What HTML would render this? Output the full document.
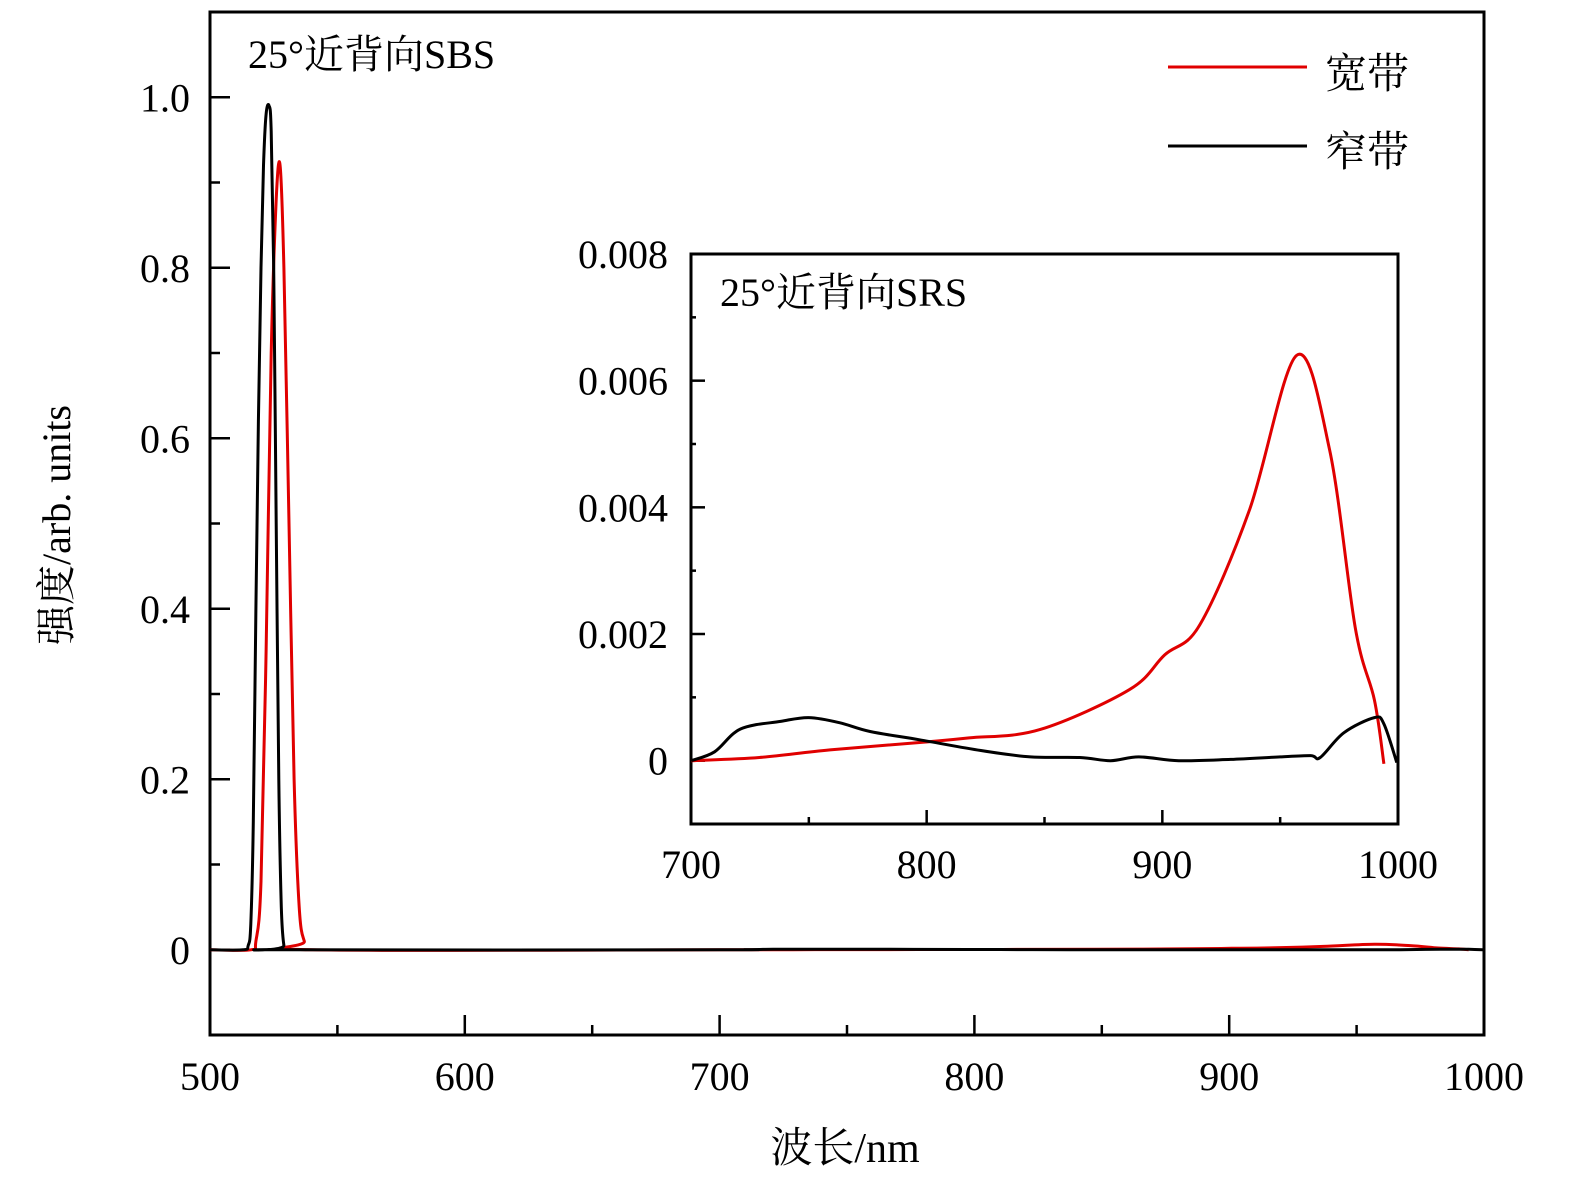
<!DOCTYPE html>
<html><head><meta charset="utf-8"><style>
html,body{margin:0;padding:0;background:#fff;}
svg{display:block;font-family:"Liberation Serif","Noto Serif CJK SC",serif;}
</style></head><body>
<svg id="chart" width="1575" height="1191" viewBox="0 0 1575 1191"></svg>
<script>
// Main chart data (wavelength nm, intensity)
const peakBroadX = [500,516,518,520,522,524,526,527.5,529,531,533,535,537,540,700];
const peakBroadY = [0,0,0.01,0.08,0.35,0.7,0.88,0.92,0.8,0.5,0.2,0.05,0.01,0,0];
const peakNarrowX = [500,513,515,516,517,518,519,520,521,522,523.2,524,525,526,527,528,529,530,700];
const peakNarrowY = [0,0,0.005,0.03,0.15,0.4,0.62,0.8,0.92,0.98,0.99,0.96,0.8,0.5,0.2,0.05,0.005,0,0];
// Inset (SRS) data
const srsBroadX = [700,729,759,801,818,848,886,901,916,937,957,971,982,990,994];
const srsBroadY = [0,0.00005,0.00017,0.0003,0.00036,0.00049,0.00112,0.00167,0.00215,0.00396,0.0064,0.0049,0.00207,0.00096,-0.00005];
const srsNarrowX = [700,710,721,738,750,763,776,797,823,844,865,878,890,907,929,950,963,967,977,990,994,999.5];
const srsNarrowY = [0,0.00014,0.0005,0.00062,0.00068,0.0006,0.00046,0.00033,0.00016,0.00006,0.00005,0,0.00006,0,0.00002,0.00006,0.00008,0.00005,0.00044,0.00068,0.00058,-0.00003];
const mainXTicks = [500,600,700,800,900,1000];
const mainYTicks = [0,0.2,0.4,0.6,0.8,1.0];
const mainYTickLabels = ["0","0.2","0.4","0.6","0.8","1.0"];
const insetXTicks = [700,800,900,1000];
const insetYTicks = [0,0.002,0.004,0.006,0.008];
const insetYTickLabels = ["0","0.002","0.004","0.006","0.008"];

const NS="http://www.w3.org/2000/svg";
const svg=document.getElementById('chart');
function mk(tag,attrs,parent){const e=document.createElementNS(NS,tag);for(const k in attrs)e.setAttribute(k,attrs[k]);(parent||svg).appendChild(e);return e;}

const M={x0:210,x1:1484,y0:1035,y1:12,xmin:500,xmax:1000,ymin:-0.1,ymax:1.1};
const I={x0:691,x1:1398,y0:824,y1:254,xmin:700,xmax:1000,ymin:-0.001,ymax:0.008};
function sx(a,v){return a.x0+(v-a.xmin)/(a.xmax-a.xmin)*(a.x1-a.x0);}
function sy(a,v){return a.y0+(v-a.ymin)/(a.ymax-a.ymin)*(a.y1-a.y0);}
function pathFor(a,xs,ys){
  const p=xs.map((x,i)=>[sx(a,x),sy(a,ys[i])]);
  let d='M'+p[0][0].toFixed(1)+','+p[0][1].toFixed(1);
  for(let i=0;i<p.length-1;i++){
    const p0=p[Math.max(0,i-1)],p1=p[i],p2=p[i+1],p3=p[Math.min(p.length-1,i+2)];
    const c1=[p1[0]+(p2[0]-p0[0])/6,p1[1]+(p2[1]-p0[1])/6];
    const c2=[p2[0]-(p3[0]-p1[0])/6,p2[1]-(p3[1]-p1[1])/6];
    d+=' C'+c1[0].toFixed(1)+','+c1[1].toFixed(1)+' '+c2[0].toFixed(1)+','+c2[1].toFixed(1)+' '+p2[0].toFixed(1)+','+p2[1].toFixed(1);
  }
  return d;
}
function text(x,y,s,size,anchor,name){const t=mk('text',{x:x,y:y,'font-size':size,'text-anchor':anchor||'start',fill:'#000'});t.textContent=s;


return t;}

// Main frame
const mf=mk('rect',{x:M.x0,y:M.y1,width:M.x1-M.x0,height:M.y0-M.y1,fill:'none',stroke:'#000','stroke-width':3});


// main x ticks
for(let v=500;v<=1000;v+=50){const x=sx(M,v);const major=v%100===0;
 const t=mk('line',{x1:x,x2:x,y1:M.y0,y2:M.y0-(major?20:10),stroke:'#000','stroke-width':2.5});
 
 }
mainXTicks.forEach(v=>text(sx(M,v),1090,String(v),40,'middle','main-x-tick-label'));
for(let k=0;k<=10;k++){const v=k*0.1;const y=sy(M,v);const major=k%2===0;
 const t=mk('line',{x1:M.x0,x2:M.x0+(major?20:10),y1:y,y2:y,stroke:'#000','stroke-width':2.5});
 
 }
mainYTicks.forEach((v,i)=>text(190,sy(M,v)+14,mainYTickLabels[i],40,'end','main-y-tick-label'));
text(845,1162,'波长/nm',42,'middle','x-axis-title');
const yt=text(0,0,'强度/arb. units',40,'middle','y-axis-title');
yt.setAttribute('transform','translate(70,525) rotate(-90)');
text(248,68,'25°近背向SBS',40,'start','main-title');

// main series: peaks + SRS tail
const mbX=peakBroadX.concat(srsBroadX.slice(1)), mbY=peakBroadY.concat(srsBroadY.slice(1));
const mnX=peakNarrowX.concat(srsNarrowX.slice(1)), mnY=peakNarrowY.concat(srsNarrowY.slice(1));
const l1=mk('path',{d:pathFor(M,mbX,mbY),fill:'none',stroke:'#e00000','stroke-width':3});


const l2=mk('path',{d:pathFor(M,mnX,mnY),fill:'none',stroke:'#000','stroke-width':3});



// legend
const lg1=mk('line',{x1:1168,x2:1307,y1:67,y2:67,stroke:'#e00000','stroke-width':3});


text(1325,88,'宽带',42,'start','legend-broadband-label');
const lg2=mk('line',{x1:1168,x2:1307,y1:146,y2:146,stroke:'#000','stroke-width':3});


text(1325,166,'窄带',42,'start','legend-narrowband-label');

// inset
const ibg=mk('rect',{x:I.x0,y:I.y1,width:I.x1-I.x0,height:I.y0-I.y1,fill:'#fff',stroke:'#000','stroke-width':3});


for(let v=700;v<=1000;v+=50){const x=sx(I,v);const major=v%100===0;
 const t=mk('line',{x1:x,x2:x,y1:I.y0,y2:I.y0-(major?14:7),stroke:'#000','stroke-width':2.5});
 
 }
insetXTicks.forEach(v=>text(sx(I,v),878,String(v),40,'middle','inset-x-tick-label'));
for(let k=0;k<=8;k++){const v=k*0.001;const y=sy(I,v);const major=k%2===0;
 const t=mk('line',{x1:I.x0,x2:I.x0+(major?14:5),y1:y,y2:y,stroke:'#000','stroke-width':2.5});
 
 }
insetYTicks.forEach((v,i)=>text(668,sy(I,v)+14,insetYTickLabels[i],40,'end','inset-y-tick-label'));
text(720,306,'25°近背向SRS',40,'start','inset-title');
const l3=mk('path',{d:pathFor(I,srsBroadX,srsBroadY),fill:'none',stroke:'#e00000','stroke-width':3});


const l4=mk('path',{d:pathFor(I,srsNarrowX,srsNarrowY),fill:'none',stroke:'#000','stroke-width':3});


</script>
</body></html>
